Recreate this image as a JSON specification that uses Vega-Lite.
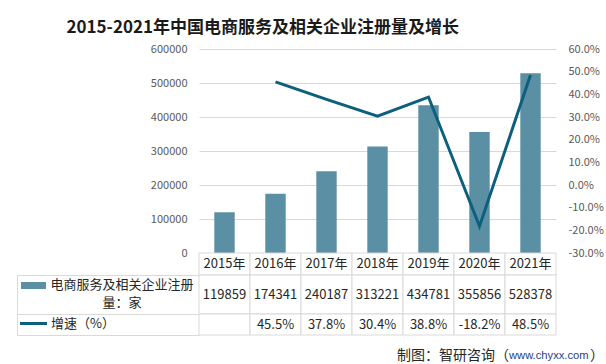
{
  "$schema": "https://vega.github.io/schema/vega-lite/v6.json",
  "padding": {"left": 13, "top": 19, "right": 0, "bottom": 0},
  "autosize": {"type": "pad"},
  "background": "white",
  "title": {"text": "2015-2021年中国电商服务及相关企业注册量及增长", "anchor": "start", "dx": 53, "fontSize": 17, "fontWeight": "bold", "color": "#1a1a1a", "offset": 6, "font": "Noto Sans CJK SC"},
  "config": {
    "view": {"stroke": null},
    "font": "Noto Sans CJK SC",
    "locale": {"number": {"decimal": ".", "thousands": ",", "grouping": [3], "currency": ["", ""], "minus": "-"}}
  },
  "datasets": {
    "main": [
      {"year": "2015年", "count": 119859, "growth": null},
      {"year": "2016年", "count": 174341, "growth": 0.455},
      {"year": "2017年", "count": 240187, "growth": 0.378},
      {"year": "2018年", "count": 313221, "growth": 0.304},
      {"year": "2019年", "count": 434781, "growth": 0.388},
      {"year": "2020年", "count": 355856, "growth": -0.182},
      {"year": "2021年", "count": 528378, "growth": 0.485}
    ]
  },
  "bounds": "flush",
  "spacing": 0,
  "columns": 2,
  "concat": [
    {"width": 182, "height": 204, "data": {"values": [{}]}, "mark": {"type": "point", "opacity": 0, "size": 0, "strokeWidth": 0}, "encoding": {}},
    {
      "width": 357, "height": 204,
      "data": {"name": "main"},
      "encoding": {"x": {"field": "year", "type": "ordinal", "axis": null, "scale": {"paddingInner": 0.6, "paddingOuter": 0.3}}},
      "layer": [
        {
          "mark": {"type": "bar", "color": "#5b8fa3"},
          "encoding": {"y": {"field": "count", "type": "quantitative", "scale": {"domain": [0, 600000]},
            "axis": {"values": [0, 100000, 200000, 300000, 400000, 500000, 600000], "format": "d", "grid": true, "gridColor": "#d9d9d9", "domain": false, "ticks": false, "labelPadding": 12, "labelColor": "#595959", "labelFontSize": 11, "title": null}}}
        },
        {
          "mark": {"type": "line", "color": "#0d5f7e", "strokeWidth": 3},
          "encoding": {"y": {"field": "growth", "type": "quantitative", "scale": {"domain": [-0.3, 0.6]},
            "axis": {"orient": "right", "values": [-0.3, -0.2, -0.1, 0, 0.1, 0.2, 0.3, 0.4, 0.5, 0.6], "format": ".1%", "grid": false, "domain": false, "ticks": false, "labelPadding": 12, "labelColor": "#595959", "labelFontSize": 11, "title": null}}}
        }
      ],
      "resolve": {"scale": {"y": "independent"}}
    },
    {"width": 182, "height": 22, "data": {"values": [{}]}, "mark": {"type": "point", "opacity": 0, "size": 0, "strokeWidth": 0}, "encoding": {}},
    {
      "width": 357, "height": 22,
      "data": {"name": "main"},
      "encoding": {"x": {"field": "year", "type": "ordinal", "axis": null, "scale": {"paddingInner": 0, "paddingOuter": 0}}},
      "layer": [
        {"mark": {"type": "rect", "fill": "white", "stroke": "#d9d9d9", "strokeWidth": 1}, "encoding": {}},
        {"mark": {"type": "text", "fontSize": 13, "color": "#262626"}, "encoding": {"text": {"field": "year"}}}
      ]
    },
    {
      "width": 182, "height": 39,
      "view": {"stroke": "#d9d9d9"},
      "data": {"values": [{"label": "电商服务及相关企业注册\n量：家"}]},
      "layer": [
        {"mark": {"type": "point", "shape": "M-1,-0.28L1,-0.28L1,0.28L-1,0.28Z", "size": 625, "filled": true, "color": "#5b8fa3", "opacity": 1, "x": 16.5, "y": 10.5}, "encoding": {}},
        {"mark": {"type": "text", "lineBreak": "\n", "lineHeight": 18, "fontSize": 13, "align": "center", "x": 105, "y": 10, "color": "#262626"}, "encoding": {"text": {"field": "label"}}}
      ]
    },
    {
      "width": 357, "height": 39,
      "data": {"name": "main"},
      "encoding": {"x": {"field": "year", "type": "ordinal", "axis": null, "scale": {"paddingInner": 0, "paddingOuter": 0}}},
      "layer": [
        {"mark": {"type": "rect", "fill": "white", "stroke": "#d9d9d9", "strokeWidth": 1}, "encoding": {}},
        {"mark": {"type": "text", "fontSize": 13, "color": "#262626"}, "encoding": {"text": {"field": "count", "type": "quantitative", "format": "d"}}}
      ]
    },
    {
      "width": 182, "height": 21,
      "view": {"stroke": "#d9d9d9"},
      "data": {"values": [{"label": "增速（%）"}]},
      "layer": [
        {"mark": {"type": "point", "shape": "M-1,0L1,0", "size": 729, "filled": false, "stroke": "#0d5f7e", "strokeWidth": 3, "opacity": 1, "x": 16.5, "y": 9.5}, "encoding": {}},
        {"mark": {"type": "text", "fontSize": 13, "align": "left", "x": 34, "y": 10, "color": "#262626"}, "encoding": {"text": {"field": "label"}}}
      ]
    },
    {
      "width": 357, "height": 21,
      "data": {"name": "main"},
      "encoding": {"x": {"field": "year", "type": "ordinal", "axis": null, "scale": {"paddingInner": 0, "paddingOuter": 0}}},
      "layer": [
        {"mark": {"type": "rect", "fill": "white", "stroke": "#d9d9d9", "strokeWidth": 1}, "encoding": {}},
        {"transform": [{"filter": "datum.growth != null"}], "mark": {"type": "text", "fontSize": 13, "color": "#262626"}, "encoding": {"text": {"field": "growth", "type": "quantitative", "format": ".1%"}}}
      ]
    },
    {"width": 182, "height": 28, "data": {"values": [{}]}, "mark": {"type": "point", "opacity": 0, "size": 0, "strokeWidth": 0}, "encoding": {}},
    {
      "width": 357, "height": 28,
      "data": {"values": [{"a": "制图：智研咨询（", "b": "www.chyxx.com", "c": "）"}]},
      "layer": [
        {"mark": {"type": "text", "fontSize": 14, "align": "right", "x": 310, "y": 21, "color": "#262626"}, "encoding": {"text": {"field": "a"}}},
        {"mark": {"type": "text", "fontSize": 11.2, "font": "Liberation Sans", "align": "left", "x": 310, "y": 21, "color": "#27408b"}, "encoding": {"text": {"field": "b"}}},
        {"mark": {"type": "text", "fontSize": 14, "align": "left", "x": 391, "y": 21, "color": "#262626"}, "encoding": {"text": {"field": "c"}}}
      ]
    }
  ]
}
